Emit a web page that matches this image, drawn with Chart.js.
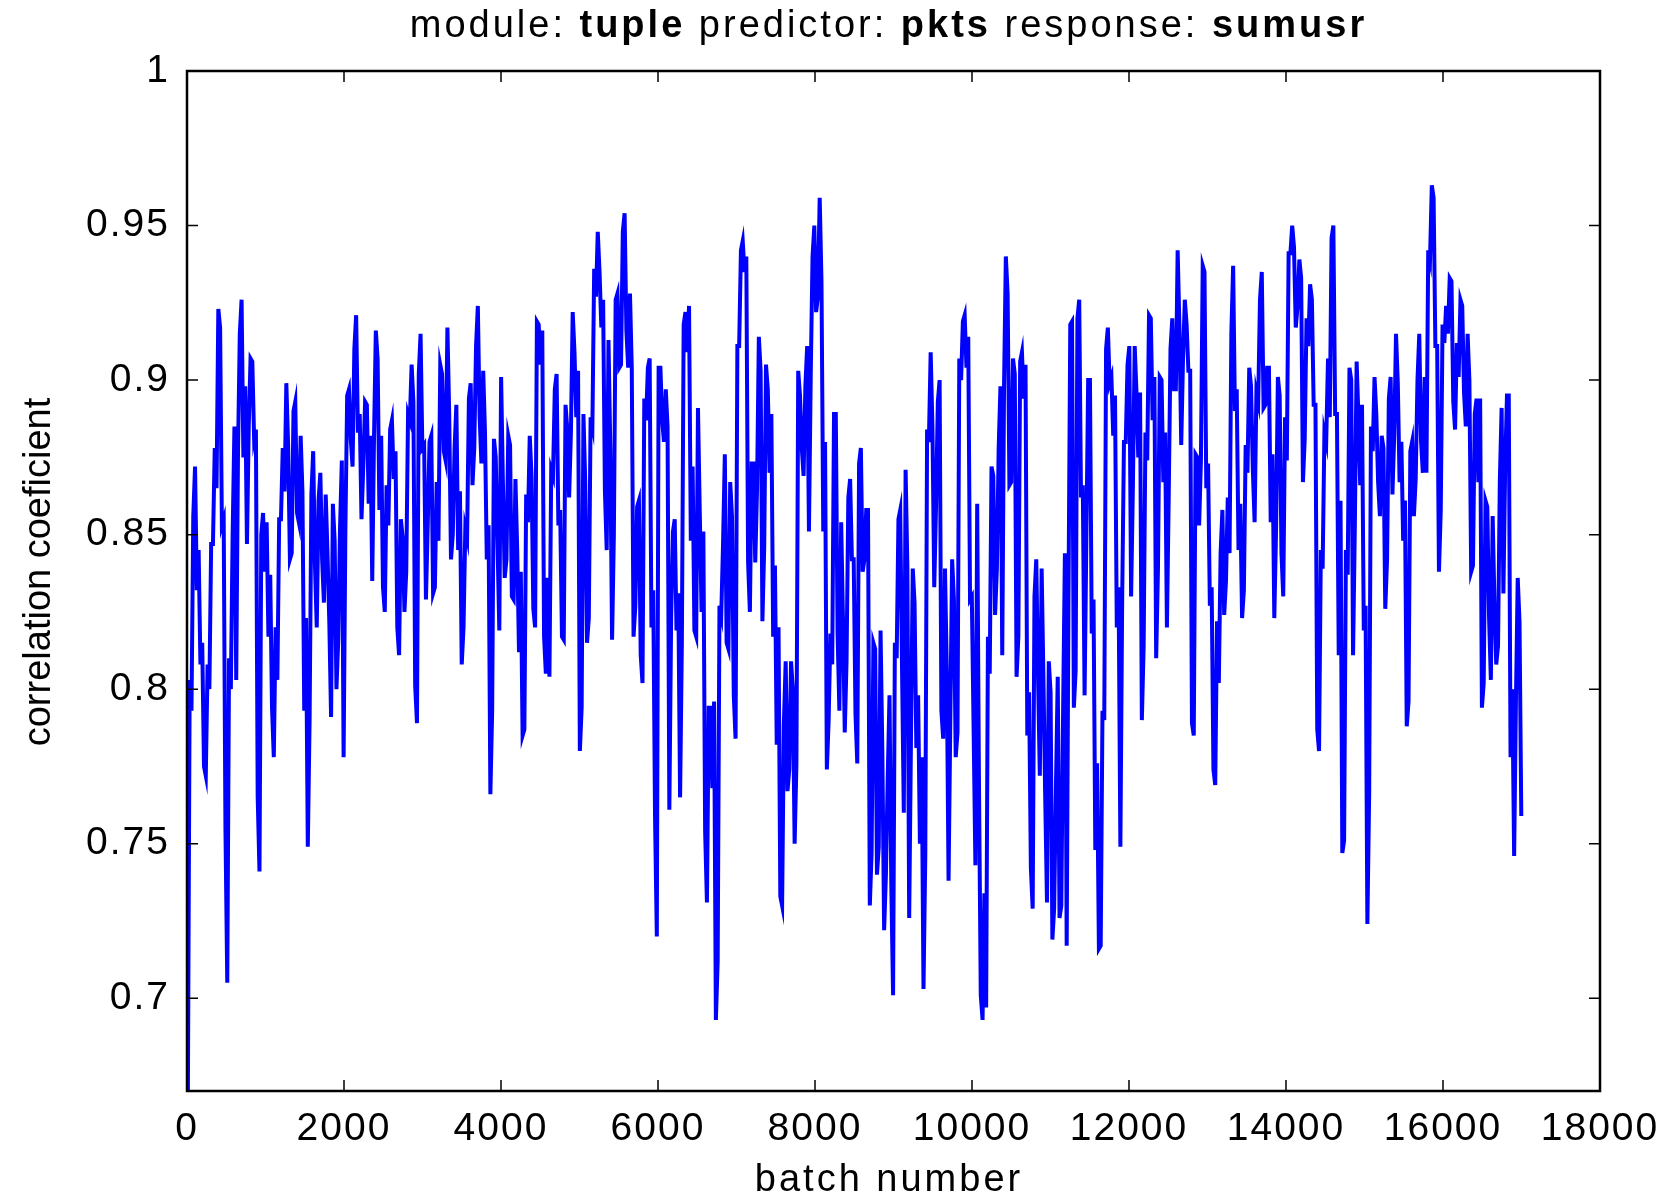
<!DOCTYPE html>
<html>
<head>
<meta charset="utf-8">
<title>tuple / pkts / sumusr</title>
<script src="https://cdn.jsdelivr.net/npm/chart.js@4.4.1/dist/chart.umd.min.js"></script>
<style>
  html, body { margin: 0; background: #fff; overflow: hidden; }
  #wrap { position: relative; width: 1679px; height: 1196px; overflow: hidden; }
  .lbl {
    position: absolute; text-align: center; white-space: nowrap; color: #000;
    font: 38px/38px "Liberation Sans", Arial, sans-serif;
  }
  #title { left: 0; top: 5px; width: 1777px; letter-spacing: 3px; }
  #xtitle { left: 589px; top: 1159px; width: 600px; letter-spacing: 3px; }
  #ytitle { left: -213px; top: 553px; width: 500px; transform: rotate(-90deg); }
</style>
</head>
<body>
<div id="wrap">
  <canvas id="myChart" width="1679" height="1196"></canvas>
  <div id="title" class="lbl">module: <b>tuple</b> predictor: <b>pkts</b> response: <b>sumusr</b></div>
  <div id="xtitle" class="lbl">batch number</div>
  <div id="ytitle" class="lbl">correlation coeficient</div>
</div>
<script>
// each plotted column covers ~45.6 batches; hi / lo = top and bottom of the column
const colWidth = 45.6;

const colHigh = [
  0.803, 0.856, 0.872, 0.845, 0.815, 0.808, 0.847, 0.878, 0.923, 0.917, 0.855, 0.810, 0.850, 0.885, 0.915,
  0.926, 0.898, 0.907, 0.906, 0.884, 0.850, 0.857, 0.854, 0.837, 0.820, 0.855, 0.878, 0.899, 0.879, 0.890,
  0.893, 0.882, 0.864, 0.823, 0.863, 0.877, 0.861, 0.870, 0.863, 0.844, 0.860, 0.848, 0.852, 0.874, 0.895,
  0.897, 0.910, 0.921, 0.889, 0.893, 0.892, 0.882, 0.916, 0.907, 0.882, 0.866, 0.884, 0.887, 0.877, 0.855,
  0.849, 0.889, 0.905, 0.893, 0.902, 0.915, 0.879, 0.880, 0.882, 0.867, 0.905, 0.902, 0.917, 0.889, 0.878,
  0.892, 0.864, 0.852, 0.894, 0.899, 0.911, 0.924, 0.903, 0.883, 0.853, 0.881, 0.875, 0.901, 0.867, 0.882,
  0.879, 0.868, 0.845,
  0.838, 0.863, 0.882, 0.869, 0.919, 0.918, 0.916, 0.836, 0.871, 0.897, 0.902, 0.858, 0.892, 0.884, 0.922,
  0.909, 0.903, 0.889, 0.867, 0.888, 0.936, 0.948, 0.935, 0.926, 0.913, 0.878, 0.926, 0.928, 0.948, 0.954,
  0.928, 0.904, 0.859, 0.861, 0.894, 0.904, 0.907, 0.832, 0.904, 0.904, 0.897, 0.885, 0.851, 0.855, 0.831,
  0.918, 0.922, 0.924,
  0.872, 0.891, 0.857, 0.851, 0.794, 0.794, 0.796, 0.827, 0.847, 0.876, 0.867, 0.856, 0.911, 0.942, 0.945,
  0.940, 0.873, 0.873, 0.914, 0.903, 0.905, 0.897, 0.889, 0.840, 0.820, 0.789, 0.809, 0.809, 0.800, 0.903,
  0.895, 0.898, 0.911, 0.940, 0.950, 0.959, 0.932, 0.880, 0.818, 0.889, 0.889, 0.854, 0.823, 0.862, 0.868,
  0.842, 0.873,
  0.878, 0.858, 0.858, 0.815, 0.813, 0.819, 0.780, 0.771, 0.798, 0.815, 0.855, 0.858, 0.871, 0.839, 0.839,
  0.828, 0.798, 0.778, 0.884, 0.909, 0.885, 0.893, 0.900, 0.839, 0.807, 0.842, 0.829, 0.907, 0.919, 0.921,
  0.914, 0.830, 0.860, 0.769, 0.734, 0.817, 0.872, 0.869, 0.878, 0.898, 0.940, 0.928, 0.907, 0.902, 0.906,
  0.909, 0.905, 0.799,
  0.830, 0.842, 0.839, 0.804, 0.809, 0.799, 0.768, 0.804, 0.793, 0.844, 0.918, 0.919, 0.920, 0.926, 0.866,
  0.900, 0.900, 0.829, 0.776, 0.793, 0.910, 0.917, 0.901, 0.895, 0.833, 0.880, 0.905, 0.911, 0.911, 0.896,
  0.896, 0.883, 0.921, 0.920, 0.901, 0.901, 0.900, 0.883, 0.910, 0.920, 0.942, 0.917, 0.926, 0.918, 0.903,
  0.876, 0.875, 0.937,
  0.935, 0.873, 0.833, 0.822, 0.844, 0.858, 0.862, 0.915, 0.937, 0.897, 0.860, 0.879, 0.904, 0.898, 0.896,
  0.926, 0.935, 0.904, 0.904, 0.876, 0.901, 0.895, 0.888, 0.941, 0.950, 0.943, 0.939, 0.933, 0.920, 0.931,
  0.926, 0.892, 0.845, 0.883, 0.907, 0.946, 0.950, 0.889, 0.861, 0.845, 0.904, 0.900, 0.906, 0.888, 0.892,
  0.827, 0.885,
  0.901, 0.889, 0.882, 0.878, 0.894, 0.901, 0.915, 0.899, 0.880, 0.861, 0.877, 0.880, 0.900, 0.915, 0.901,
  0.942, 0.963, 0.959, 0.911, 0.918, 0.924, 0.933, 0.932, 0.912, 0.926, 0.924, 0.915, 0.900, 0.889, 0.894,
  0.894, 0.861, 0.859, 0.856, 0.828, 0.867, 0.891, 0.895, 0.895, 0.800, 0.836, 0.822
];

const colLow = [
  0.670, 0.793, 0.832, 0.808, 0.775, 0.772, 0.800, 0.847, 0.865, 0.853, 0.754, 0.705, 0.800, 0.803, 0.877,
  0.875, 0.847, 0.885, 0.881, 0.765, 0.741, 0.838, 0.817, 0.794, 0.778, 0.803, 0.855, 0.864, 0.842, 0.844,
  0.857, 0.854, 0.793, 0.749, 0.790, 0.840, 0.820, 0.842, 0.828, 0.822, 0.791, 0.800, 0.816, 0.778, 0.852,
  0.881, 0.872, 0.883, 0.855, 0.872, 0.860, 0.835, 0.882, 0.858, 0.833, 0.825, 0.853, 0.868, 0.820, 0.811,
  0.825, 0.838, 0.887, 0.801, 0.789, 0.878, 0.829, 0.853, 0.831, 0.833, 0.848, 0.877, 0.874, 0.842, 0.850,
  0.845, 0.808, 0.820, 0.849, 0.866, 0.878, 0.888, 0.873, 0.842, 0.766, 0.793, 0.847, 0.819, 0.836, 0.842,
  0.830, 0.829, 0.812,
  0.785, 0.787, 0.854, 0.826, 0.820, 0.905, 0.817, 0.805, 0.804, 0.869, 0.853, 0.817, 0.816, 0.862, 0.883,
  0.888, 0.780, 0.794, 0.815, 0.823, 0.885, 0.927, 0.917, 0.864, 0.845, 0.816, 0.850, 0.904, 0.905, 0.916,
  0.904, 0.817, 0.827, 0.811, 0.802, 0.887, 0.820, 0.759, 0.720, 0.887, 0.880, 0.761, 0.823, 0.819, 0.765,
  0.816, 0.909, 0.848,
  0.819, 0.817, 0.825, 0.754, 0.731, 0.768, 0.693, 0.712, 0.824, 0.815, 0.813, 0.798, 0.784, 0.911, 0.935,
  0.841, 0.825, 0.841, 0.865, 0.822, 0.846, 0.870, 0.817, 0.782, 0.733, 0.730, 0.767, 0.774, 0.750, 0.776,
  0.878, 0.869, 0.851, 0.902, 0.922, 0.927, 0.851, 0.774, 0.790, 0.808, 0.818, 0.793, 0.786, 0.809, 0.842,
  0.792, 0.776,
  0.838, 0.842, 0.730, 0.747, 0.740, 0.749, 0.722, 0.740, 0.737, 0.701, 0.810, 0.807, 0.760, 0.726, 0.784,
  0.781, 0.750, 0.703, 0.746, 0.880, 0.833, 0.859, 0.793, 0.784, 0.738, 0.791, 0.778, 0.786, 0.900, 0.904,
  0.829, 0.787, 0.743, 0.701, 0.693, 0.697, 0.805, 0.824, 0.839, 0.811, 0.898, 0.866, 0.867, 0.804, 0.817,
  0.894, 0.785, 0.742,
  0.729, 0.804, 0.772, 0.765, 0.731, 0.719, 0.729, 0.726, 0.730, 0.717, 0.829, 0.794, 0.806, 0.862, 0.798,
  0.849, 0.818, 0.748, 0.716, 0.717, 0.790, 0.899, 0.882, 0.820, 0.749, 0.829, 0.880, 0.830, 0.866, 0.875,
  0.790, 0.814, 0.874, 0.887, 0.810, 0.839, 0.867, 0.820, 0.862, 0.897, 0.897, 0.879, 0.907, 0.903, 0.789,
  0.785, 0.853, 0.874,
  0.865, 0.827, 0.774, 0.769, 0.802, 0.824, 0.835, 0.844, 0.890, 0.845, 0.823, 0.832, 0.870, 0.871, 0.854,
  0.893, 0.891, 0.892, 0.854, 0.823, 0.852, 0.844, 0.830, 0.874, 0.941, 0.917, 0.924, 0.867, 0.881, 0.911,
  0.892, 0.787, 0.780, 0.839, 0.880, 0.888, 0.889, 0.811, 0.747, 0.751, 0.837, 0.811, 0.853, 0.866, 0.819,
  0.724, 0.766,
  0.877, 0.867, 0.856, 0.826, 0.842, 0.863, 0.882, 0.867, 0.848, 0.788, 0.796, 0.856, 0.868, 0.880, 0.870,
  0.870, 0.939, 0.911, 0.838, 0.858, 0.912, 0.915, 0.893, 0.884, 0.901, 0.896, 0.885, 0.838, 0.840, 0.867,
  0.794, 0.802, 0.823, 0.803, 0.808, 0.814, 0.831, 0.872, 0.778, 0.746, 0.796, 0.759
];

const xTicks = [0, 2000, 4000, 6000, 8000, 10000, 12000, 14000, 16000, 18000];
const yTicks = [0.7, 0.75, 0.8, 0.85, 0.9, 0.95, 1];

// every column becomes two points (top and bottom), ordered so the line
// continues from whichever end is closest to where the last column stopped
const points = [];
let last = colLow[0];
for (let i = 0; i < colHigh.length; i++) {
  const hi = colHigh[i], lo = colLow[i];
  const first = Math.abs(last - hi) < Math.abs(last - lo) ? hi : lo;
  const second = first === hi ? lo : hi;
  points.push({ x: (i + 0.25) * colWidth, y: first });
  points.push({ x: (i + 0.75) * colWidth, y: second });
  last = second;
}

const tickFont = { family: "'Liberation Sans', Arial, sans-serif", size: 39 };

// the old plot font is wider than Liberation Sans, so space the tick digits a bit
const spacing = {
  id: "spacing",
  beforeUpdate(chart) { chart.ctx.letterSpacing = "2px"; },
  beforeDraw(chart) { chart.ctx.letterSpacing = "2px"; },
};

// matlab style box with ticks pointing inwards on all four sides
const frame = {
  id: "frame",
  afterDatasetsDraw(chart) {
    const { ctx, chartArea: a, scales } = chart;
    const len = 11;
    ctx.save();
    ctx.strokeStyle = "#000";
    ctx.lineWidth = 1.5;
    ctx.beginPath();
    scales.x.ticks.forEach((t) => {
      const px = scales.x.getPixelForValue(t.value);
      ctx.moveTo(px, a.bottom);
      ctx.lineTo(px, a.bottom - len);
      ctx.moveTo(px, a.top);
      ctx.lineTo(px, a.top + len);
    });
    scales.y.ticks.forEach((t) => {
      const py = scales.y.getPixelForValue(t.value);
      ctx.moveTo(a.left, py);
      ctx.lineTo(a.left + len, py);
      ctx.moveTo(a.right, py);
      ctx.lineTo(a.right - len, py);
    });
    ctx.stroke();
    ctx.lineWidth = 2.5;
    ctx.strokeRect(a.left, a.top, a.right - a.left, a.bottom - a.top);
    ctx.restore();
  },
};

new Chart(document.getElementById("myChart"), {
  type: "line",
  data: {
    datasets: [
      {
        label: "correlation",
        data: points,
        borderColor: "#0000ff",
        borderWidth: 4,
        pointRadius: 0,
        fill: false,
        tension: 0,
      },
    ],
  },
  options: {
    responsive: false,
    animation: false,
    layout: { padding: { top: 71, right: 79, left: 0, bottom: 0 } },
    plugins: {
      legend: { display: false },
      tooltip: { enabled: false },
    },
    scales: {
      x: {
        type: "linear",
        min: 0,
        max: 18000,
        afterBuildTicks: (s) => { s.ticks = xTicks.map((v) => ({ value: v })); },
        afterFit: (s) => { s.height = 105; },
        grid: { display: false },
        border: { display: false },
        ticks: {
          font: tickFont,
          color: "#000",
          padding: 7,
          maxRotation: 0,
          autoSkip: false,
          callback: (v) => String(v),
        },
      },
      y: {
        min: 0.67,
        max: 1,
        afterBuildTicks: (s) => { s.ticks = yTicks.map((v) => ({ value: v })); },
        afterFit: (s) => { s.width = 187; },
        grid: { display: false },
        border: { display: false },
        ticks: {
          font: tickFont,
          color: "#000",
          padding: 9,
          autoSkip: false,
          callback: (v) => String(+v.toFixed(2)),
        },
      },
    },
  },
  plugins: [spacing, frame],
});
</script>
</body>
</html>
